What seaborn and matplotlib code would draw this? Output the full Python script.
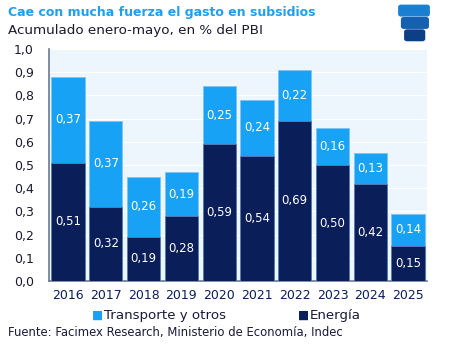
import pandas as pd
import numpy as np
import matplotlib.pyplot as plt
from matplotlib.patches import FancyBboxPatch
import seaborn as sns

years = ['2016', '2017', '2018', '2019', '2020', '2021', '2022', '2023', '2024', '2025']
energia = [0.51, 0.32, 0.19, 0.28, 0.59, 0.54, 0.69, 0.50, 0.42, 0.15]
transporte = [0.37, 0.37, 0.26, 0.19, 0.25, 0.24, 0.22, 0.16, 0.13, 0.14]

df = pd.DataFrame({'year': years, 'energia': energia, 'transporte': transporte})
df['total'] = df['energia'] + df['transporte']

navy = '#0A1E5A'
light = '#17A2F5'

sns.set_style('white')
plt.rcParams['font.family'] = ['DejaVu Sans']

fig = plt.figure(figsize=(4.6, 3.53), dpi=100)
ax = fig.add_axes([0.107, 0.204, 0.821, 0.657])
ax.set_facecolor('#EEF6FD')

# stacked: total first (light), energy on top of it (dark)
sns.barplot(data=df, x='year', y='total', color=light, width=0.88,
            edgecolor='#7fc4f0', linewidth=0.6, saturation=1, ax=ax, zorder=2)
sns.barplot(data=df, x='year', y='energia', color=navy, width=0.88,
            edgecolor='#5b7fb5', linewidth=0.6, saturation=1, ax=ax, zorder=3)

def fmt(v):
    return f'{v:.2f}'.replace('.', ',')

for i, (e, t) in enumerate(zip(energia, transporte)):
    ax.text(i, e / 2, fmt(e), ha='center', va='center', color='white', fontsize=8.5, zorder=4)
    ax.text(i, e + t / 2, fmt(t), ha='center', va='center', color='white', fontsize=8.5, zorder=4)

ax.set_ylim(0, 1.0)
ax.set_xlim(-0.5, 9.5)
yt = np.arange(0, 1.01, 0.1)
ax.set_yticks(yt)
ax.set_yticklabels([f'{v:.1f}'.replace('.', ',') for v in yt], fontsize=9, color='#1a1a2e')
ax.tick_params(axis='x', labelsize=9, labelcolor='#0A1E5A', length=0, pad=6)
ax.tick_params(axis='y', length=0, pad=11)
ax.yaxis.grid(True, color='white', linewidth=0.8, zorder=0)
ax.set_axisbelow(True)
ax.set_xlabel('')
ax.set_ylabel('')
for s in ['top', 'right']:
    ax.spines[s].set_visible(False)
for s in ['left', 'bottom']:
    ax.spines[s].set_color('#6a7a94')
    ax.spines[s].set_linewidth(1.2)

# legend drawn as text with square markers
fig.text(0.213, 0.107, '■', color=light, fontsize=8.5, va='center', ha='center')
fig.text(0.226, 0.107, 'Transporte y otros', color='#1a1a3a', fontsize=9.6, va='center')
fig.text(0.659, 0.107, '■', color=navy, fontsize=8.5, va='center', ha='center')
fig.text(0.674, 0.107, 'Energía', color='#1a1a3a', fontsize=9.6, va='center')

fig.text(0.017, 0.057, 'Fuente: Facimex Research, Ministerio de Economía, Indec',
         color='#1a1a3a', fontsize=8.4, va='center')
fig.text(0.017, 0.965, 'Cae con mucha fuerza el gasto en subsidios',
         color='#1EA0EE', fontsize=9, fontweight='bold', va='center')
fig.text(0.017, 0.915, 'Acumulado enero-mayo, en % del PBI',
         color='#1a1a2e', fontsize=9.7, va='center')

# small logo, three rounded bars
for (x0, y0, w, c) in [(0.872, 0.96, 0.056, '#1a7fd0'),
                       (0.878, 0.925, 0.048, '#1560b0'),
                       (0.885, 0.89, 0.033, '#0d3f86')]:
    fig.patches.append(FancyBboxPatch((x0, y0), w, 0.02, boxstyle='round,pad=0.005',
                                      transform=fig.transFigure, color=c))

fig.savefig('out.png', dpi=100)
